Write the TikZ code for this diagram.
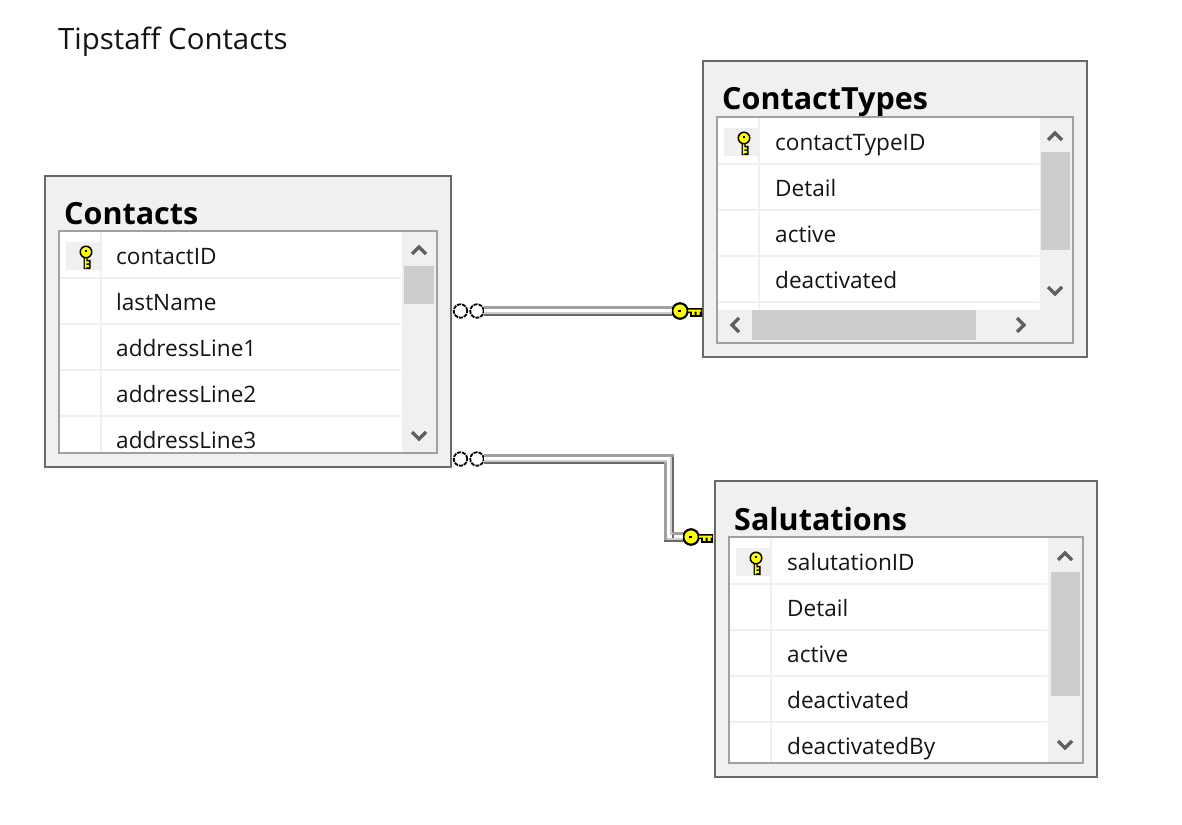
\documentclass[tikz,border=0pt]{standalone}
\usepackage{fontspec}
\setmainfont{Open Sans}
\usetikzlibrary{calc}
\definecolor{panelgrey}{HTML}{F0F0F0}
\definecolor{frameouter}{HTML}{696969}
\definecolor{frameinner}{HTML}{A0A0A0}
\definecolor{thumbgrey}{HTML}{CDCDCD}
\definecolor{arrowgrey}{HTML}{606060}
\definecolor{keyyellow}{HTML}{FFFF00}
\tikzset{
  x=1pt,y=-1pt,
  outerframe/.style={draw=frameouter,line width=2pt,fill=panelgrey,rectangle,anchor=north west,inner sep=0pt,outer sep=0pt},
  innerframe/.style={draw=frameinner,line width=2pt,fill=white,rectangle,anchor=north west,inner sep=0pt,outer sep=0pt},
  tabletitle/.style={anchor=base west,inner sep=0pt,font=\fontsize{30.5}{33}\bfseries\selectfont,text=black},
  rowtext/.style={anchor=base west,inner sep=0pt,font=\fontsize{22.6}{26}\selectfont,text=black!92},
  chevron/.style={draw=arrowgrey,line width=3.4pt,line cap=butt,line join=miter},
  infring/.style={circle,draw=black,line width=1.8pt,dash pattern=on 4pt off 1pt,fill=white,minimum size=13.5pt,inner sep=0pt,outer sep=0pt},
  keyhead/.style={circle,draw=black,line width=1.6pt,fill=keyyellow,minimum size=16pt,inner sep=0pt,outer sep=0pt},
  pipeedgelight/.style={draw=frameinner,line width=2.5pt},
  pipeedgedark/.style={draw=frameouter,line width=2.5pt},
  pipebody/.style={draw=thumbgrey,line width=10pt,line join=miter},
  pipeshine/.style={draw=white,line width=3pt,line join=miter},
  keyglyph/.pic={
    \fill[black] (4,-3) rectangle (22,2) (10,1) rectangle (22,5.8);
    \fill[keyyellow] (5,-1.5) rectangle (21,0.6) (12,0) rectangle (14.5,3.8) (16.5,0) rectangle (19.5,3.8);
    \draw[black,line width=1.5pt,fill=keyyellow] (0,0) circle[radius=7.4];
    \fill[black] (-2.4,-0.8) rectangle (0.6,0.8);
  },
}
\newcommand{\upchev}[2]{\draw[chevron] (#1-7,#2+4) -- (#1,#2-3) -- (#1+7,#2+4);}
\newcommand{\downchev}[2]{\draw[chevron] (#1-7,#2-4) -- (#1,#2+3) -- (#1+7,#2-4);}
\newcommand{\leftchev}[2]{\draw[chevron] (#1+4,#2-7) -- (#1-3,#2) -- (#1+4,#2+7);}
\newcommand{\rightchev}[2]{\draw[chevron] (#1-4,#2-7) -- (#1+3,#2) -- (#1-4,#2+7);}
\begin{document}
\begin{tikzpicture}
\useasboundingbox[fill=white] (0,0) rectangle (1182,824);
\node[anchor=base west,inner sep=0pt,font=\fontsize{29.4}{33}\selectfont,text=black!92] (diagtitle) at (58,50) {Tipstaff Contacts};

%% Contacts
\node[outerframe,minimum width=406pt,minimum height=291pt] (contacts) at (45,176) {};
\node[tabletitle] (contactsT) at (64,224) {Contacts};
\node[innerframe,minimum width=378pt,minimum height=222pt] (contactsG) at (59,231) {};
\fill[panelgrey] (402,232) rectangle (436,452);
\fill[thumbgrey] (404,266) rectangle (434,304);
\foreach \yy in {278,324,370,416} \draw[panelgrey,line width=2pt] (60,\yy) -- (401,\yy);
\draw[panelgrey,line width=2pt] (101,232) -- (101,452);
\fill[panelgrey] (66,242) rectangle (100,270);
\upchev{419}{250}\downchev{419}{436}
\pic[rotate=-90,yscale=-1,scale=.78] at (86,252) {keyglyph};
\node[rowtext] (c1) at (116,264) {contactID};
\node[rowtext] (c2) at (116,310) {lastName};
\node[rowtext] (c3) at (116,356) {addressLine1};
\node[rowtext] (c4) at (116,402) {addressLine2};
\node[rowtext] (c5) at (116,448) {addressLine3};

%% ContactTypes
\node[outerframe,minimum width=384pt,minimum height=296pt] (ctypes) at (703,61) {};
\node[tabletitle] (ctypesT) at (722,110) {ContactTypes};
\node[innerframe,minimum width=356pt,minimum height=226pt] (ctypesG) at (717,117) {};
\fill[panelgrey] (1040,118) rectangle (1072,342);
\fill[panelgrey] (718,310) rectangle (1072,342);
\fill[thumbgrey] (1041,152) rectangle (1070,250);
\fill[thumbgrey] (752,310) rectangle (976,340);
\foreach \yy in {164,210,256,302} \draw[panelgrey,line width=2pt] (718,\yy) -- (1039,\yy);
\draw[panelgrey,line width=2pt] (759,118) -- (759,309);
\fill[panelgrey] (724,128) rectangle (758,156);
\upchev{1055}{136}\downchev{1055}{291}\leftchev{735}{325}\rightchev{1021}{325}
\pic[rotate=-90,yscale=-1,scale=.78] at (744,138) {keyglyph};
\node[rowtext] (t1) at (775,150) {contactTypeID};
\node[rowtext] (t2) at (775,196) {Detail};
\node[rowtext] (t3) at (775,242) {active};
\node[rowtext] (t4) at (775,288) {deactivated};

%% Salutations
\node[outerframe,minimum width=382pt,minimum height=296pt] (salut) at (715,481) {};
\node[tabletitle] (salutT) at (734,530) {Salutations};
\node[innerframe,minimum width=354pt,minimum height=226pt] (salutG) at (729,537) {};
\fill[panelgrey] (1048,538) rectangle (1082,762);
\fill[thumbgrey] (1051,572) rectangle (1080,696);
\foreach \yy in {584,630,676,722} \draw[panelgrey,line width=2pt] (730,\yy) -- (1047,\yy);
\draw[panelgrey,line width=2pt] (771,538) -- (771,762);
\fill[panelgrey] (736,548) rectangle (770,576);
\upchev{1065}{556}\downchev{1065}{745}
\pic[rotate=-90,yscale=-1,scale=.78] at (756,558) {keyglyph};
\node[rowtext] (s1) at (787,570) {salutationID};
\node[rowtext] (s2) at (787,616) {Detail};
\node[rowtext] (s3) at (787,662) {active};
\node[rowtext] (s4) at (787,708) {deactivated};
\node[rowtext] (s5) at (787,754) {deactivatedBy};

%% Relationship Contacts -- ContactTypes
\node[infring] (infAa) at (460.5,311) {};
\node[infring] (infAb) at (477,311) {};
\node[keyhead] (keyA) at (680,311) {};
\draw[pipebody] (infAb.east) -- (keyA.west);
\draw[pipeshine] ([shift={(0,-1)}]infAb.east) -- ([shift={(0,-1)}]keyA.west);
\draw[pipeedgelight] ([shift={(0,-3.75)}]infAb.east) -- ([shift={(0,-3.75)}]keyA.west);
\draw[pipeedgedark] ([shift={(0,3.75)}]infAb.east) -- ([shift={(0,3.75)}]keyA.west);
\pic at (680,311) {keyglyph};

%% Relationship Contacts -- Salutations
\node[infring] (infBa) at (460.5,459) {};
\node[infring] (infBb) at (477,459) {};
\node[keyhead] (keyB) at (691,537) {};
\coordinate (bendB) at (669,537);
\draw[pipebody] (infBb.east) -| (bendB) -- (keyB.west);
\draw[pipeshine] ([shift={(0,-1)}]infBb.east) -| ([shift={(-1,-1)}]bendB) -- ([shift={(0,-1)}]keyB.west);
% upper horizontal run: light top, dark underside
\draw[pipeedgelight] ([shift={(0,-3.75)}]infBb.east) -- ([shift={(5,-3.75)}]infBb.east -| bendB);
\draw[pipeedgedark] ([shift={(0,3.75)}]infBb.east) -- ([shift={(-5,3.75)}]infBb.east -| bendB);
% vertical run: light left, dark right
\draw[pipeedgedark] ([shift={(3.75,-2.5)}]infBb.east -| bendB) -- ([shift={(3.75,1)}]bendB);
\draw[pipeedgelight] ([shift={(-3.75,2.5)}]infBb.east -| bendB) -- ([shift={(-3.75,5)}]bendB);
% lower horizontal run
\draw[pipeedgelight] ([shift={(2.5,-3.75)}]bendB) -- ([shift={(0,-3.75)}]keyB.west);
\draw[pipeedgedark] ([shift={(-5,3.75)}]bendB) -- ([shift={(0,3.75)}]keyB.west);
\pic at (691,537) {keyglyph};
\end{tikzpicture}
\end{document}
